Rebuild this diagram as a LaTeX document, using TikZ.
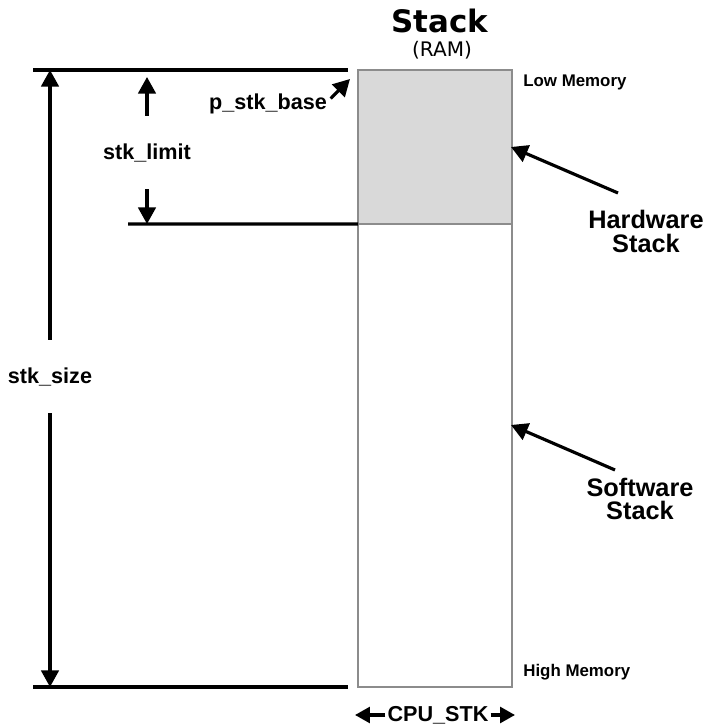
\documentclass[tikz,border=0pt]{standalone}
\usepackage{fontspec}
\setmainfont{Liberation Sans}
\newfontfamily\policeTitre{DejaVu Sans}
\usepackage{xcolor}
\definecolor{pileGris}{HTML}{D9D9D9}
\definecolor{pileBord}{HTML}{8C8C8C}
\usetikzlibrary{arrows.meta, positioning}
\tikzset{
  %% ── Stack ────────────────────────────────────────────────────────────
  %% The stack is one column; the grey top part is the hardware stack.
  bloc/.style       = {draw=pileBord, line width=1.5pt, fill=white,
                       inner sep=0pt, outer sep=0pt},
  blocGris/.style   = {bloc, fill=pileGris},
  %%
  %% ── Lines and arrows ─────────────────────────────────────────────────
  trait/.style      = {draw=black, line width=1.9pt},
  fleche/.style     = {-{Triangle[length=9.5pt, width=10pt]}, draw=black,
                       line width=1.8pt},
  flecheCourte/.style = {-{Triangle[length=8.5pt, width=9pt]}, draw=black,
                       line width=1.8pt},
  %%
  %% ── Text ─────────────────────────────────────────────────────────────
  etiquette/.style  = {font=\fontsize{12.3}{14}\selectfont\bfseries, inner sep=2pt},
  etiquetteMem/.style = {font=\fontsize{9.6}{11}\selectfont\bfseries,
                       inner sep=0pt, anchor=west},
  etiquetteGrande/.style = {font=\fontsize{14.4}{13.3}\selectfont\bfseries,
                       align=center, inner sep=2pt},
  titre/.style      = {font=\policeTitre\fontsize{17.6}{20}\selectfont\bfseries,
                       inner sep=0pt},
  sousTitre/.style  = {font=\policeTitre\fontsize{11.4}{13}\selectfont,
                       inner sep=0pt},
}

\begin{document}
\begin{tikzpicture}[x=1cm, y=1cm]
\useasboundingbox (0,0) rectangle (14.12,14.54);

\node[blocGris, minimum width=3.08cm, minimum height=3.08cm] (hw) at (8.70, 11.60) {};
\node[bloc, minimum width=3.08cm, minimum height=9.26cm] (sw) at (8.70, 5.43) {};

\node[titre] (titre) at (8.80, 14.13) {Stack};
\node[sousTitre] (ram) at (8.84, 13.54) {(RAM)};

\coordinate (hautG) at (0.66, 13.14);
\coordinate (hautD) at (6.96, 13.14);
\coordinate (milieuG) at (2.56, 10.06);
\coordinate (basG) at (0.66, 0.80);
\coordinate (basD) at (6.96, 0.80);

\draw[trait] (hautG) -- (hautD);
\draw[trait] (milieuG) -- (hw.south west);
\draw[trait] (basG) -- (basD);

\node[etiquette, minimum height=1.46cm] (taille) at (1.00, 7.01) {stk\_size};
\coordinate (tailleHaut) at (1.00, 13.14);
\coordinate (tailleBas) at (1.00, 0.80);
\draw[fleche] (taille.north) -- (tailleHaut);
\draw[fleche] (taille.south) -- (tailleBas);

\node[etiquette, minimum height=1.46cm] (limite) at (2.94, 11.49) {stk\_limit};
\coordinate (limiteHaut) at (2.94, 13.00);
\coordinate (limiteBas) at (2.94, 10.06);
\draw[fleche] (limite.north) -- (limiteHaut);
\draw[fleche] (limite.south) -- (limiteBas);

\node[etiquette] (base) at (5.36, 12.46) {p\_stk\_base};
\coordinate (baseBout) at (7.00, 12.96);
\draw[fleche] (base.5) -- (baseBout);

\node[etiquetteMem] (memBasse) at (10.46, 12.90) {Low Memory};
\node[etiquetteMem] (memHaute) at (10.46, 1.10) {High Memory};

\node[etiquetteGrande] (hwLbl) at (12.92, 9.91) {Hardware\\Stack};
\coordinate (hwPointe) at (10.22, 11.60);
\draw[fleche] ([shift={(-0.56,0.77)}]hwLbl.center) -- (hwPointe);

\node[etiquetteGrande] (swLbl) at (12.80, 4.56) {Software\\Stack};
\coordinate (swPointe) at (10.22, 6.04);
\draw[fleche] ([shift={(-0.50,0.58)}]swLbl.center) -- (swPointe);

\node[etiquette, inner xsep=1pt] (cpu) at (8.76, 0.24) {CPU\_STK};
\coordinate (cpuG) at (7.10, 0.24);
\coordinate (cpuD) at (10.30, 0.24);
\draw[flecheCourte] (cpu.west) -- (cpuG);
\draw[flecheCourte] (cpu.east) -- (cpuD);

\end{tikzpicture}
\end{document}
